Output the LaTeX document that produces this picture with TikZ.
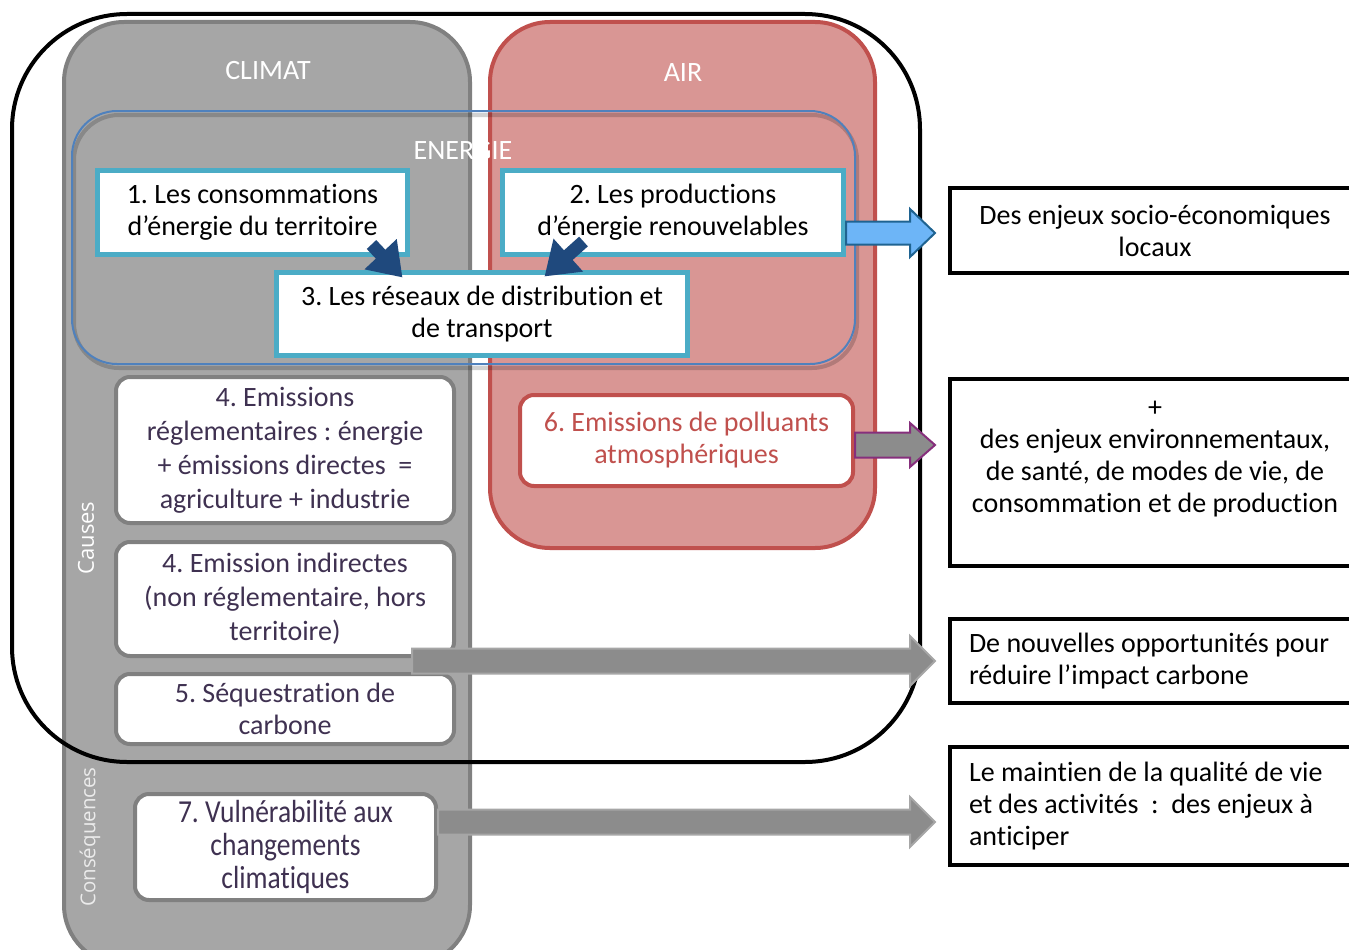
\documentclass[tikz,border=0pt]{standalone}
\usepackage{fontspec}
\setmainfont{Carlito}[Ligatures=NoCommon]
\newfontfamily\narrowfont[FakeStretch=0.86, Ligatures=NoCommon]{Carlito}
\newfontfamily\sidefont{Open Sans}
\usepackage{xcolor}
\usetikzlibrary{calc, arrows.meta, positioning}
\frenchspacing

\definecolor{climatgrey}{HTML}{A6A6A6}
\definecolor{climatedge}{HTML}{808080}
\definecolor{airfill}{HTML}{D99694}
\definecolor{airedge}{HTML}{C0504D}
\definecolor{energyblue}{HTML}{4F81BD}
\definecolor{tealedge}{HTML}{4BACC6}
\definecolor{navy}{HTML}{1F497D}
\definecolor{plumtext}{HTML}{3F3151}
\definecolor{skyfill}{HTML}{6DB5F7}
\definecolor{skyedge}{HTML}{1F6391}
\definecolor{arrowgrey}{HTML}{8C8C8C}
\definecolor{plumedge}{HTML}{862F7C}

% block arrow: style, start, tip, half shaft, half head
\newcommand{\fatarrow}[5]{%
  \draw[#1] ($(#2)+(0,#4)$) -- ($(#3)+(-25,#4)$) -- ($(#3)+(-25,#5)$) -- (#3)
    -- ($(#3)+(-25,-#5)$) -- ($(#3)+(-25,-#4)$) -- ($(#2)+(0,-#4)$) -- cycle;}

\begin{document}
\begin{tikzpicture}[
    x=1pt, y=1pt,
    txt/.style={font={\fontsize{28}{32}\selectfont}, align=center},
    energybox/.style={rectangle, draw=tealedge, fill=white, line width=5pt, inner sep=0pt, txt},
    causebox/.style={rectangle, draw=climatedge, fill=white, line width=4pt, rounded corners=14pt, inner sep=0pt, text=plumtext, align=center, font={\fontsize{28}{34}\selectfont}},
    airbox/.style={rectangle, draw=airedge, fill=white, line width=4pt, rounded corners=14pt, inner sep=0pt, text=airedge, txt},
    goalbox/.style={rectangle, draw=black, fill=white, line width=4pt, txt},
    zonelbl/.style={text=white, font={\fontsize{28}{32}\selectfont}},
    sidelbl/.style={text=white, rotate=90, font={\sidefont\fontsize{22}{26}\selectfont}},
    flow/.style={draw=navy, line width=13pt, -{Triangle[length=32pt, width=42pt]}},
    skyarrow/.style={fill=skyfill, draw=skyedge, line width=2pt},
    plumarrow/.style={fill=arrowgrey, draw=plumedge, line width=2pt},
    greyarrow/.style={fill=arrowgrey, draw=climatgrey, line width=2pt}
]
    \useasboundingbox (0,0) rectangle (1349,-950);
    \clip (0,0) rectangle (1349,-950);

    % Zones: CLIMAT, AIR, territory, ENERGIE
    \draw[fill=climatgrey, draw=climatedge, line width=4pt, rounded corners=60pt] (64,-22) rectangle (470,-965);
    \draw[fill=airfill, draw=airedge, line width=4pt, rounded corners=60pt] (490,-22) rectangle (875,-548);
    \draw[black, line width=4pt, rounded corners=115pt] (12,-14) rectangle (920,-762);
    \draw[black, opacity=0.18, line width=4pt, rounded corners=45pt] (74,-115) rectangle (857,-368);
    \draw[energyblue, line width=2pt, rounded corners=45pt] (72,-111) rectangle (855,-364);

    \node (climat) at (268,-71) [zonelbl] {CLIMAT};
    \node (air) at (683,-73) [zonelbl] {AIR};
    \node (energie) at (463,-151) [zonelbl] {ENERGIE};
    \node (causes) at (86,-538) [sidelbl] {Causes};
    \node (consq) at (90,-837) [sidelbl, text=white!92!black, font={\sidefont\fontsize{20.5}{24}\selectfont}] {Cons\'equences};

    % Energy boxes
    \node (box1) at (252.5,-212.5) [energybox, minimum width=310, minimum height=84] {1. Les consommations\\d’énergie du territoire};
    \node (box2) at (673,-212.5) [energybox, minimum width=341, minimum height=84] {2. Les productions\\d’énergie renouvelables};
    \node (box3) at (482,-314) [energybox, minimum width=411, minimum height=83] {3. Les réseaux de distribution et\\de transport};

    \draw[flow] ($(box1.south east)+(-38.5,12.5)$) -- ($(box3.north west)+(128.5,-7.5)$);
    \draw[flow] ($(box2.south west)+(83.5,15.5)$) -- ($(box3.north west)+(270.5,-6.5)$);

    % Emission boxes
    \node (box4a) at (285,-450) [causebox, minimum width=338, minimum height=146] {4. Emissions\\réglementaires : énergie\\+ émissions directes~ =\\agriculture + industrie};
    \node (box4b) at (285,-599) [causebox, minimum width=338, minimum height=114] {4. Emission indirectes\\(non réglementaire, hors\\territoire)};
    \node (box5) at (285,-709) [causebox, minimum width=338, minimum height=70, font={\fontsize{28}{32}\selectfont}] {5. Séquestration de\\carbone};
    \node (box7) at (285.5,-847) [causebox, minimum width=301, minimum height=106, font={\narrowfont\fontsize{32}{33}\selectfont}] {7. Vulnérabilité aux\\changements\\climatiques};
    \node (box6) at (686.5,-440.5) [airbox, minimum width=333, minimum height=91] {6. Emissions de polluants\\atmosphériques};

    % Stakes on the right
    \node (goal1) at (1155,-230.5) [goalbox, minimum width=410, minimum height=85] {Des enjeux socio-économiques\\locaux};
    \node (goal2) at (1155,-472.5) [goalbox, minimum width=410, minimum height=187] {+\\des enjeux environnementaux,\\de santé, de modes de vie, de\\consommation et de production\\\mbox{}};
    \node (goal3) at (1155,-661) [goalbox, minimum height=84, text width=372, inner xsep=19, align=flush left] {De nouvelles opportunités pour\\réduire l’impact carbone};
    \node (goal4) at (1155,-806) [goalbox, minimum height=118, text width=372, inner xsep=19, align=flush left] {Le maintien de la qualité de vie\\et des activités~ : ~des enjeux à\\anticiper};

    % Block arrows
    \coordinate (a1e) at (935,-233);
    \coordinate (a2e) at (935,-445);
    \coordinate (a3e) at (935,-661);
    \coordinate (a4e) at (935,-822);
    \fatarrow{skyarrow}{box2.east |- a1e}{a1e}{11.5}{24}
    \fatarrow{plumarrow}{box6.east |- a2e}{a2e}{12.5}{22}
    \fatarrow{greyarrow}{$(box4b.east |- a3e)+(-44,0)$}{a3e}{12.5}{25}
    \fatarrow{greyarrow}{box7.east |- a4e}{a4e}{12.5}{25}
\end{tikzpicture}
\end{document}
